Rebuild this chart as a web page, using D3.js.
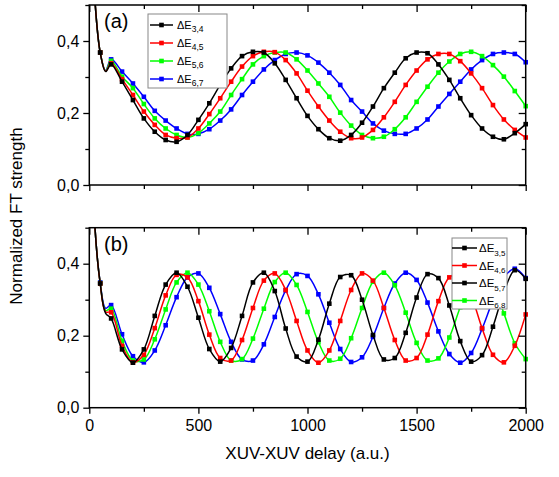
<!DOCTYPE html>
<html>
<head>
<meta charset="utf-8">
<script src="https://d3js.org/d3.v7.min.js"></script>
<style>
  body { margin: 0; background: white; }
  text { font-family: "Liberation Sans", Arial, sans-serif; }
</style>
</head>
<body>
<div id="my_dataviz"></div>
<script>
// delay axis (a.u.), markers every 50, a few extra points at the start
var delay = [0,25,50,75,100,150,200,250,300,350,400,450,500,550,600,650,700,750,800,850,900,950,1000,
  1050,1100,1150,1200,1250,1300,1350,1400,1450,1500,1550,1600,1650,1700,1750,1800,1850,1900,1950,2000];

// panel (a)
var aE34 = [0.9,0.52,0.368,0.315,0.335, .287,.236,.185,.148,.125,.120,.139,.181,.227,.278,
  .324,.358,.370,.368,.338,.292,.241,.192, .155,.130,.123,.139,.173,.218,.269,.312,.352,.368,
  .366,.335,.292,.241,.194,.157,.134,.127,.144,.169];
var aE45 = [0.9,0.52,0.368,0.316,0.338, .294,.250,.204,.167,.139,.130,.132,.157,.197,.241,
  .287,.329,.358,.370,.369,.347,.310,.262, .218,.179,.148,.130,.132,.153,.188,.231,.278,.318,
  .349,.364,.364,.344,.310,.269,.222,.182,.153,.132];
var aE56 = [0.9,0.52,0.368,0.317,0.345, .301,.269,.225,.185,.157,.139,.132,.144,.171,.204,
  .250,.294,.335,.358,.368,.368,.349,.318, .282,.245,.201,.165,.139,.130,.134,.155,.188,.231,
  .273,.312,.343,.364,.370,.358,.333,.301,.261,.219];
var aE67 = [0.9,0.52,0.368,0.318,0.349, .315,.282,.245,.206,.179,.157,.142,.142,.155,.179,
  .210,.250,.287,.321,.347,.364,.368,.360, .340,.312,.278,.236,.204,.171,.151,.142,.142,.157,
  .182,.218,.253,.287,.321,.347,.364,.368,.364,.341];

// panel (b)
var bE35 = [1.0,0.51,0.345,0.262,0.248, .162,.125,.162,.255,.342,.375,.336,.250,.163,.128,
  .166,.255,.348,.375,.324,.220,.142,.128, .189,.289,.363,.368,.300,.202,.134,.138,.208,.306,
  .371,.360,.284,.185,.128,.146,.225,.320,.382,.358];
var bE46 = [1.0,0.51,0.345,0.266,0.265, .172,.126,.147,.221,.312,.369,.362,.296,.203,.138,
  .131,.188,.277,.353,.373,.327,.241,.159, .125,.159,.241,.327,.373,.353,.277,.188,.131,.138,
  .203,.296,.362,.369,.312,.221,.147,.126,.172,.259];
var bE57 = [1.0,0.51,0.346,0.270,0.275, .186,.131,.134,.190,.273,.348,.375,.342,.268,.183,
  .131,.135,.192,.275,.349,.375,.341,.266, .182,.131,.136,.193,.277,.350,.375,.340,.264,.180,
  .131,.137,.195,.279,.351,.375,.339,.262,.179,.135];
var bE68 = [1.0,0.51,0.348,0.276,0.285, .204,.143,.126,.159,.229,.307,.362,.373,.333,.260,
  .183,.134,.131,.176,.252,.326,.371,.366, .315,.236,.163,.127,.140,.197,.277,.345,.375,.355,
  .292,.212,.149,.125,.152,.219,.298,.362,.386,.360];

var colors = ["#000000", "#ff0000", "#00ff00", "#0000ff"];
var namesA = ["3,4","4,5","5,6","6,7"];
var namesB = ["3,5","4,6","5,7","6,8"];
var legendColorsB = ["#000000", "#ff0000", "#000000", "#00ff00"];

var xTicks = [0, 500, 1000, 1500, 2000];
var xMinor = [250, 750, 1250, 1750];
var yTicks = [0, 0.2, 0.4];
var yMinor = [0.1, 0.3, 0.5];

var width = 559, height = 477;

var svg = d3.select("#my_dataviz")
  .append("svg")
    .attr("width", width)
    .attr("height", height);

var x = d3.scaleLinear().domain([0, 2000]).range([89.3, 525.7]);

var panels = [
  {id: "a", top: 5, bottom: 185, series: [aE34, aE45, aE56, aE67], names: namesA,
   legColors: colors, labels: false,
   legend: {x: 148, y: 14, w: 79, h: 74, rows: [25, 43, 61, 79], fs: 11, sub: 8.5, lx0: 150, lx1: 173, tx: 177}},
  {id: "b", top: 227.7, bottom: 407.7, series: [bE35, bE46, bE57, bE68], names: namesB,
   legColors: legendColorsB, labels: true,
   legend: {x: 452, y: 238, w: 55, h: 71, rows: [248, 265.5, 283, 300.5], fs: 11.5, sub: 8, lx0: 452, lx1: 477, tx: 479}}
];

var fmt = function(d) { return d3.format(".1f")(d).replace(".", ","); };

panels.forEach(function(p) {
  var y = d3.scaleLinear().domain([0, 0.5]).range([p.bottom, p.top]);
  var g = svg.append("g");

  g.append("clipPath").attr("id", "clip" + p.id)
    .append("rect")
      .attr("x", x(0)).attr("y", p.top)
      .attr("width", x(2000) - x(0)).attr("height", p.bottom - p.top);

  var line = d3.line()
    .x(function(d) { return x(d[0]); })
    .y(function(d) { return y(d[1]); })
    .curve(d3.curveCatmullRom.alpha(0.5));

  // draw blue first so black ends on top
  for (var k = 3; k >= 0; k--) {
    var pts = delay.map(function(t, i) { return [t, p.series[k][i]]; });
    g.append("path")
      .datum(pts)
      .attr("clip-path", "url(#clip" + p.id + ")")
      .attr("fill", "none")
      .attr("stroke", colors[k])
      .attr("stroke-width", 1.5)
      .attr("d", line);
    g.selectAll(".m" + k)
      .data(pts.filter(function(d) { return d[0] >= 50 && d[0] % 50 === 0; }))
      .enter()
      .append("rect")
        .attr("x", function(d) { return x(d[0]) - 2.3; })
        .attr("y", function(d) { return y(d[1]) - 2.3; })
        .attr("width", 4.6)
        .attr("height", 4.6)
        .style("fill", colors[k]);
  }

  // axes
  g.append("g").attr("transform", "translate(0," + p.bottom + ")")
    .call(d3.axisBottom(x).tickValues(xTicks).tickSize(6).tickPadding(6).tickFormat(p.labels ? d3.format("d") : ""));
  g.append("g").attr("transform", "translate(0," + p.bottom + ")")
    .call(d3.axisBottom(x).tickValues(xMinor).tickSize(4).tickFormat(""));
  g.append("g").attr("transform", "translate(0," + p.top + ")")
    .call(d3.axisBottom(x).tickValues(xTicks).tickSize(7).tickFormat(""));
  g.append("g").attr("transform", "translate(0," + p.top + ")")
    .call(d3.axisBottom(x).tickValues(xMinor).tickSize(4).tickFormat(""));

  g.append("g").attr("transform", "translate(" + x(0) + ",0)")
    .call(d3.axisLeft(y).tickValues(yTicks).tickSize(6).tickPadding(4).tickFormat(fmt));
  g.append("g").attr("transform", "translate(" + x(0) + ",0)")
    .call(d3.axisLeft(y).tickValues(yMinor).tickSize(4).tickFormat(""));
  g.append("g").attr("transform", "translate(" + x(2000) + ",0)")
    .call(d3.axisLeft(y).tickValues(yTicks).tickSize(7).tickFormat(""));
  g.append("g").attr("transform", "translate(" + x(2000) + ",0)")
    .call(d3.axisLeft(y).tickValues(yMinor).tickSize(4).tickFormat(""));

  g.selectAll(".domain").remove();
  g.selectAll(".tick line").attr("stroke", "#000").attr("stroke-width", 1.3);
  g.selectAll(".tick text").attr("fill", "#000").style("font-size", "16px")
    .style("font-family", "'Liberation Sans', Arial, sans-serif");

  // frame
  g.append("rect")
    .attr("x", x(0)).attr("y", p.top)
    .attr("width", x(2000) - x(0)).attr("height", p.bottom - p.top)
    .attr("fill", "none").attr("stroke", "#000").attr("stroke-width", 1.5);

  // panel label
  g.append("text")
    .attr("x", 104).attr("y", p.top + 23)
    .style("font-size", "20px")
    .text("(" + p.id + ")");

  // legend
  var L = p.legend;
  var leg = g.append("g");
  leg.append("rect")
    .attr("x", L.x).attr("y", L.y).attr("width", L.w).attr("height", L.h)
    .attr("fill", "white").attr("stroke", "#888").attr("stroke-width", 1);
  L.rows.forEach(function(ry, i) {
    leg.append("line")
      .attr("x1", L.lx0).attr("x2", L.lx1).attr("y1", ry).attr("y2", ry)
      .attr("stroke", p.legColors[i]).attr("stroke-width", 1.5);
    leg.append("rect")
      .attr("x", (L.lx0 + L.lx1) / 2 - 2.3).attr("y", ry - 2.3)
      .attr("width", 4.6).attr("height", 4.6)
      .style("fill", p.legColors[i]);
    var t = leg.append("text")
      .attr("x", L.tx).attr("y", ry + L.fs * 0.36)
      .style("font-size", L.fs + "px");
    t.append("tspan").text("\u0394E");
    t.append("tspan").attr("dy", L.fs * 0.3).style("font-size", L.sub + "px").text(p.names[i]);
  });
});

// X axis label
svg.append("text")
  .attr("text-anchor", "middle")
  .attr("x", 307.5)
  .attr("y", 459)
  .style("font-size", "17px")
  .text("XUV-XUV delay (a.u.)");

// Y axis label
svg.append("text")
  .attr("text-anchor", "middle")
  .attr("transform", "translate(22,216) rotate(-90)")
  .style("font-size", "17px")
  .text("Normalized FT strength");
</script>
</body>
</html>
